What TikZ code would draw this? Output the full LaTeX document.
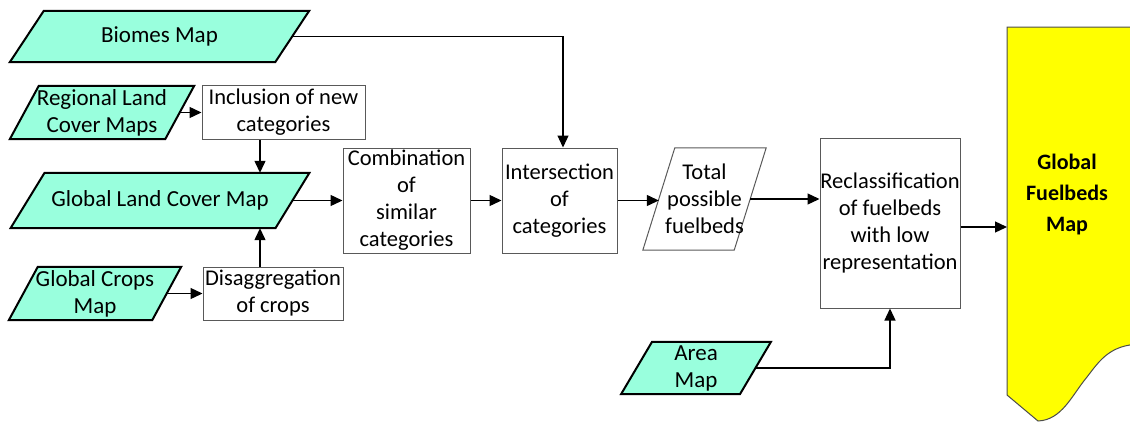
\documentclass[tikz,border=0pt]{standalone}
\usepackage{fontspec}
\setmainfont{Carlito}
\usetikzlibrary{arrows.meta,backgrounds}
\definecolor{mint}{RGB}{153,255,221}
\definecolor{fuelyellow}{RGB}{255,255,0}
\begin{document}
\begin{tikzpicture}[x=1pt,y=-1pt,
 txt/.style={font=\fontsize{22.5}{27}\selectfont, align=center, inner sep=0pt, text=black},
 inp/.style={txt, font=\fontsize{23}{27}\selectfont},
 proc/.style={txt, draw=black!65, line width=1pt, fill=white},
 inpshape/.style={fill=mint, draw=black, line width=2pt, line join=miter},
 outshape/.style={fill=white, draw=black!65, line width=1pt},
 arr/.style={draw=black, line width=1.3pt, -{Triangle[length=12pt,width=11pt]}},
]
\clip (0,0) rectangle (1130,423);
% input parallelograms (text nodes)
\node[inp, minimum width=265pt, minimum height=51pt] (biomes) at (159.5,36.5) {Biomes Map};
\node[inp, minimum width=155pt, minimum height=53pt] (regional) at (102,112.5) {Regional Land\\Cover Maps};
\node[inp, minimum width=264.5pt, minimum height=55pt] (glc) at (160,200.5) {Global Land Cover Map};
\node[inp, minimum width=143pt, minimum height=53pt] (crops) at (95,293.5) {Global Crops\\Map};
\node[inp, minimum width=118.5pt, minimum height=52pt] (area) at (696,368) {Area\\Map};
\node[txt, minimum width=91pt, minimum height=102pt] (total) at (704.5,199) {Total\\possible\\fuelbeds};
% process boxes
\node[proc, minimum width=163pt, minimum height=54pt] (incl) at (283.5,112) {Inclusion of new\\categories};
\node[proc, minimum width=140pt, minimum height=53pt] (disagg) at (273,293.5) {Disaggregation\\of crops};
\node[proc, minimum width=127pt, minimum height=105pt] (comb) at (406.5,200.5) {Combination\\of\\similar\\categories};
\node[proc, minimum width=115pt, minimum height=105pt] (inter) at (559.5,200.5) {Intersection\\of\\categories};
\node[proc, minimum width=140pt, minimum height=170pt] (reclass) at (890,223) {Reclassification\\of fuelbeds\\with low\\representation};
% output document
\node[txt, font=\fontsize{22}{31}\selectfont\bfseries] (fuel) at (1067,195) {Global\\Fuelbeds\\Map};
\coordinate (fuelW) at (1007,227);

\begin{pgfonlayer}{background}
\foreach \n/\s in {biomes/17,regional/14.5,glc/17,crops/14.5,area/15.5}
  \path[inpshape] ([xshift=\s pt]\n.north west) -- ([xshift=\s pt]\n.north east)
     -- ([xshift=-\s pt]\n.south east) -- ([xshift=-\s pt]\n.south west) -- cycle;
\path[outshape] ([xshift=16pt]total.north west) -- ([xshift=16pt]total.north east)
     -- ([xshift=-16pt]total.south east) -- ([xshift=-16pt]total.south west) -- cycle;
\path[fill=fuelyellow, draw=black!70, line width=1pt]
  (1140,27) -- (1007,27) -- (1007,395) -- (1038,421)
  .. controls (1062,420) and (1072,395) .. (1087,377)
  .. controls (1100,360) and (1110,345) .. (1140,344) -- cycle;
\end{pgfonlayer}

% connectors
\draw[arr] (biomes.east) -| ([xshift=3.5pt]inter.north);
\draw[arr] (regional.east) -- (regional.east -| incl.west);
\draw[arr] ([xshift=-23.5pt]incl.south) -- ([xshift=-23.5pt]incl.south |- glc.north);
\draw[arr] (crops.east) -- (crops.east -| disagg.west);
\draw[arr] ([xshift=-13pt]disagg.north) -- ([xshift=-13pt]disagg.north |- glc.south);
\draw[arr] (glc.east) -- (glc.east -| comb.west);
\draw[arr] (comb.east) -- (inter.west);
\draw[arr] (inter.east) -- (inter.east -| total.west);
\draw[arr] (total.east) -- (total.east -| reclass.west);
\draw[arr] ([yshift=-4pt]reclass.east) -- ([yshift=-4pt]reclass.east -| fuelW);
\draw[arr] (area.east) -| (reclass.south);
\end{tikzpicture}
\end{document}
